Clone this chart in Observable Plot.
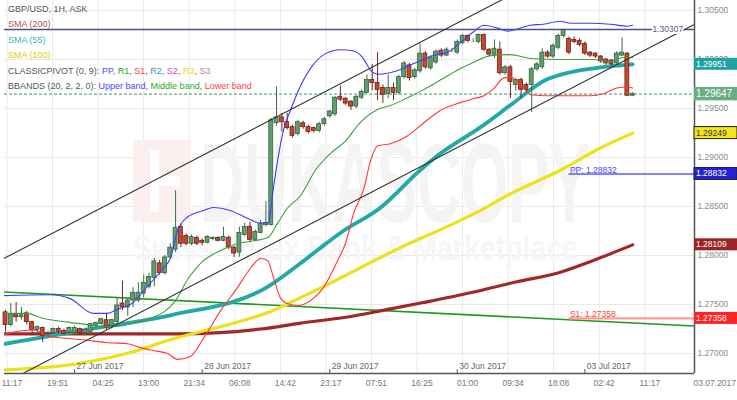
<!DOCTYPE html>
<html><head><meta charset="utf-8">
<script src="https://cdn.jsdelivr.net/npm/d3@7"></script>
<script src="https://cdn.jsdelivr.net/npm/@observablehq/plot@0.6"></script>
<style>
body{margin:0;background:#fff;}
#wrap{position:relative;width:737px;height:400px;font-family:"Liberation Sans",Arial,sans-serif;overflow:hidden;}
#legend{position:absolute;left:8px;top:2px;font-size:9px;line-height:15.4px;color:#555;white-space:nowrap;}
</style></head><body>
<div id="wrap">
<div id="chart"></div>
<div id="legend">
<div>GBP/USD, 1H, ASK</div>
<div style="color:#b9504c">SMA (200)</div>
<div style="color:#33b8b8">SMA (55)</div>
<div style="color:#ddd000">SMA (100)</div>
<div>CLASSICPIVOT (0, 9): <span style="color:#4848ff">PP</span>, <span style="color:#2fa52f">R1</span>, <span style="color:#ff4040">S1</span>, <span style="color:#3399cc">R2</span>, <span style="color:#dd44dd">S2</span>, <span style="color:#dede20">R3</span>, <span style="color:#c08888">S3</span></div>
<div>BBANDS (20, 2, 2, 0): <span style="color:#4848ff">Upper band</span>, <span style="color:#2fa52f">Middle band</span>, <span style="color:#ff4040">Lower band</span></div>
</div>
</div>
<script>
// ---- Candles (hourly bars, index 0 = 26 Jun 2017 11:00) ----
const open = [
1.2742,1.2729,1.2740,1.2737,1.2741,1.2732,1.2724,1.2726,1.2720,1.2721,
1.2725,1.2723,1.2721,1.2721,1.2725,1.2721,1.2722,1.2728,1.2730,1.2734,
1.2728,1.2732,1.2751,1.2747,1.2754,1.2754,1.2761,1.2768,1.2777,1.2792,
1.2782,1.2798,1.2806,1.2829,1.2820,1.2812,1.2818,1.2815,1.2813,1.2817,
1.2818,1.2815,1.2818,1.2808,1.2803,1.2821,1.2829,1.2816,1.2823,1.2831,
1.2831,1.2935,1.2941,1.2936,1.2931,1.2924,1.2935,1.2931,1.2930,1.2927,
1.2934,1.2942,1.2944,1.2962,1.2960,1.2957,1.2952,1.2961,1.2966,1.2979,
1.2976,1.2971,1.2965,1.2971,1.2966,1.2982,1.2994,1.2982,1.2988,1.3006,
1.2991,1.2997,1.3009,1.3004,1.3009,1.3007,1.3017,1.3024,1.3019,1.3018,
1.3025,1.3010,1.3005,1.3010,1.2986,1.2992,1.2974,1.2979,1.2974,1.2974,
1.2990,1.2992,1.3007,1.3003,1.3012,1.3024,1.3021,1.3020,1.3019,1.3016,
1.3007,1.3006,1.3003,1.3000,1.2999,1.2996,1.3004,1.3006,1.2963];
const high = [
1.2744,1.2751,1.2752,1.2747,1.2743,1.2733,1.2728,1.2727,1.2723,1.2726,
1.2727,1.2725,1.2727,1.2728,1.2726,1.2726,1.2731,1.2732,1.2736,1.2741,
1.2735,1.2757,1.2774,1.2756,1.2767,1.2772,1.2780,1.2782,1.2797,1.2795,
1.2800,1.2812,1.2866,1.2832,1.2822,1.2821,1.2820,1.2817,1.2820,1.2819,
1.2819,1.2829,1.2820,1.2809,1.2829,1.2833,1.2834,1.2826,1.2836,1.2855,
1.2940,1.2972,1.2945,1.2945,1.2933,1.2938,1.2937,1.2933,1.2931,1.2936,
1.2941,1.2948,1.2962,1.2973,1.2961,1.2958,1.2963,1.2969,1.2984,1.2995,
1.3007,1.2974,1.2984,1.2976,1.2984,1.2998,1.2996,1.2991,1.3016,1.3008,
1.3004,1.3010,1.3011,1.3012,1.3011,1.3020,1.3026,1.3025,1.3021,1.3026,
1.3026,1.3011,1.3020,1.3018,1.2994,1.2994,1.2981,1.2981,1.2976,1.2992,
1.2997,1.3011,1.3009,1.3016,1.3026,1.3031,1.3023,1.3023,1.3021,1.3018,
1.3008,1.3007,1.3004,1.3001,1.3000,1.3008,1.3022,1.3007,1.2966];
const low = [
1.2722,1.2727,1.2732,1.2734,1.2729,1.2719,1.2721,1.2711,1.2718,1.2720,
1.2720,1.2719,1.2720,1.2719,1.2719,1.2719,1.2720,1.2726,1.2729,1.2724,
1.2725,1.2730,1.2744,1.2738,1.2747,1.2752,1.2757,1.2766,1.2768,1.2780,
1.2780,1.2796,1.2803,1.2808,1.2810,1.2810,1.2810,1.2810,1.2812,1.2815,
1.2814,1.2814,1.2806,1.2798,1.2798,1.2819,1.2813,1.2814,1.2822,1.2829,
1.2830,1.2932,1.2926,1.2928,1.2920,1.2922,1.2929,1.2924,1.2925,1.2925,
1.2932,1.2940,1.2942,1.2957,1.2953,1.2948,1.2950,1.2959,1.2965,1.2968,
1.2958,1.2955,1.2960,1.2958,1.2964,1.2980,1.2978,1.2980,1.2986,1.2990,
1.2989,1.2995,1.3002,1.3003,1.3007,1.3005,1.3015,1.3017,1.3017,1.3016,
1.3008,1.3003,1.3001,1.2984,1.2984,1.2960,1.2968,1.2960,1.2967,1.2946,
1.2988,1.2990,1.3001,1.3001,1.3010,1.3022,1.3005,1.3016,1.3013,1.3004,
1.3002,1.3001,1.2996,1.2994,1.2993,1.2994,1.3003,1.2962,1.2962];
const close = [
1.2729,1.2740,1.2737,1.2739,1.2732,1.2724,1.2727,1.2718,1.2721,1.2725,
1.2722,1.2720,1.2726,1.2726,1.2721,1.2724,1.2730,1.2731,1.2735,1.2726,
1.2734,1.2749,1.2747,1.2754,1.2762,1.2762,1.2772,1.2778,1.2794,1.2782,
1.2798,1.2808,1.2828,1.2812,1.2812,1.2819,1.2812,1.2813,1.2819,1.2818,
1.2815,1.2819,1.2808,1.2802,1.2823,1.2829,1.2816,1.2824,1.2832,1.2833,
1.2938,1.2941,1.2936,1.2930,1.2922,1.2936,1.2931,1.2926,1.2927,1.2934,
1.2939,1.2947,1.2961,1.2959,1.2955,1.2952,1.2962,1.2967,1.2979,1.2976,
1.2969,1.2964,1.2971,1.2966,1.2982,1.2996,1.2981,1.2989,1.3006,1.2992,
1.3002,1.3008,1.3004,1.3010,1.3009,1.3018,1.3024,1.3019,1.3019,1.3025,
1.3010,1.3005,1.3011,1.2986,1.2992,1.2977,1.2979,1.2969,1.2969,1.2990,
1.2995,1.3007,1.3003,1.3014,1.3024,1.3030,1.3007,1.3018,1.3015,1.3006,
1.3004,1.3003,1.2998,1.2996,1.2995,1.3006,1.3007,1.2963,1.2965];

// ---- Indicators: [bar index, price] ----
const sma200 = [[-1,1.2720],[16,1.2720],[32,1.2720],[48,1.2725],[55.5,1.2731],[64,1.2737],[71,1.2744],[78.6,1.2752],[87.5,1.2762],[96,1.2773],[104.4,1.2783],[110.6,1.2795],[118,1.28109]];
const sma100 = [[-1,1.2683],[14,1.2690],[23.5,1.2701],[31,1.2714],[44.2,1.2733],[49,1.2741],[53.6,1.2752],[59.3,1.2767],[63,1.2777],[74.3,1.2808],[83.7,1.2831],[89.4,1.2846],[95,1.2863],[104.4,1.2887],[112,1.2910],[118,1.29249]];
const sma55 = [[-1,1.2709],[16,1.2725],[31,1.2739],[49,1.2767],[55.5,1.2792],[59.3,1.2808],[63,1.2823],[70.6,1.2849],[78,1.2887],[81.8,1.2904],[89.4,1.2931],[95.4,1.2955],[101.6,1.2979],[106.3,1.2987],[112,1.2992],[115.7,1.2994],[118,1.29951]];
const bbUpper = [[-1,1.2759],[8.5,1.2760],[12.2,1.2756],[16.5,1.2741],[19.2,1.2741],[21,1.2745],[24,1.2752],[26,1.2764],[27.8,1.2775],[29.7,1.2787],[31,1.2797],[32.4,1.2826],[34.2,1.2839],[37.3,1.2846],[39.1,1.2849],[42.3,1.2846],[45.5,1.2838],[48,1.2833],[49.5,1.2834],[50.2,1.2861],[51.2,1.2897],[52.3,1.2928],[53.6,1.2948],[55.5,1.2973],[57.8,1.2994],[60.2,1.3006],[63,1.3010],[65.3,1.3009],[67.2,1.3002],[68.7,1.2989],[70.2,1.2985],[73.4,1.2988],[76.8,1.2996],[80.5,1.3004],[83.7,1.3009],[86.2,1.3020],[88,1.3028],[90,1.3035],[92.6,1.3032],[94.5,1.3029],[98.8,1.3035],[101.2,1.3036],[104.4,1.3039],[106.3,1.3037],[110,1.3037],[113.8,1.3036],[117,1.3034],[118,1.3035]];
const bbMiddle = [[-1,1.2741],[4,1.2741],[7,1.2736],[11.7,1.2732],[16,1.2729],[19.2,1.2727],[21.6,1.2728],[24,1.2731],[27.3,1.2736],[29.7,1.2742],[32,1.2754],[34.2,1.2775],[37.3,1.2795],[40.5,1.2805],[43.6,1.2812],[46.7,1.2815],[49.3,1.2818],[51.2,1.2833],[53,1.2848],[55.5,1.2861],[58.3,1.2887],[61.1,1.2904],[64,1.2917],[66.8,1.2936],[70,1.2949],[72.4,1.2953],[75.6,1.2961],[78.6,1.2969],[81.8,1.2979],[85,1.2989],[88,1.2997],[91.3,1.3004],[95,1.3005],[98.8,1.3001],[104.4,1.3000],[110.6,1.3000],[113.8,1.2998],[116.2,1.3002],[118,1.3002]];
const bbLower = [[-1,1.2718],[1.5,1.2722],[5.3,1.2724],[7.9,1.2718],[10.3,1.2716],[14.7,1.2714],[19.2,1.2711],[23,1.2710],[25.4,1.2706],[27.8,1.2703],[30.5,1.2700],[32.4,1.2694],[34.8,1.2697],[37.3,1.2716],[40.5,1.2744],[43.6,1.2767],[46.1,1.2787],[48,1.2797],[49.3,1.2795],[50.4,1.2778],[51.7,1.2757],[53,1.2751],[55,1.2749],[57.4,1.2754],[59.8,1.2767],[62.5,1.2795],[64,1.2813],[65.5,1.2843],[67.4,1.2868],[68.7,1.2897],[70,1.2912],[72.4,1.2914],[75.6,1.2922],[78.6,1.2935],[81.8,1.2948],[85.6,1.2956],[88,1.2960],[90,1.2963],[91.8,1.2970],[93.7,1.2981],[95,1.2982],[96.3,1.2977],[97.5,1.2971],[98.8,1.2964],[102,1.2963],[110,1.2963],[112.5,1.2965],[115,1.2971],[117,1.2972],[118,1.2971]];
const channelUpper = [[-1,1.2795],[130,1.3164]];
const channelLower = [[-1,1.26676],[130,1.30370]];
const trendGreen = [[-1,1.2763],[130,1.2728]];

// ---- Levels ----
const resistanceLevel = 1.30307;
const currentPrice = 1.29647;
const pivotPP = 1.28832;
const pivotS1 = 1.27358;
const pivotStartIdx = 106;

// ---- Axis ticks ----
const yTicks = [1.270,1.275,1.280,1.285,1.290,1.295,1.300,1.305];
const timeIdx = [0.28,8.85,17.42,25.98,34.57,43.13,51.70,60.28,68.85,77.42,86.00,94.57,103.13,111.70,120.28];
const timeLabels = ["11:17","19:51","04:25","13:00","21:34","06:08","14:42","23:17","07:51","16:25","01:00","09:34","18:08","02:42","11:17"];
const dateIdx = [13,37,61,85,109];
const dateLabels = ["27 Jun 2017","28 Jun 2017","29 Jun 2017","30 Jun 2017","03 Jul 2017"];
const currentDate = "03.07.2017";

// right-axis value boxes
const boxValues = [1.29951,1.29647,1.29249,1.28832,1.28109,1.27358];
const boxFills  = ["#1fa2a2","#6aac84","#f2e51c","#2323d4","#9c2424","#ff2323"];
const boxInk    = ["#fff","#fff","#333","#fff","#fff","#fff"];

const X0=-0.19, X1=129.63, Y0=1.26796, Y1=1.30602;
const bars = open.map((o,i)=>({i,o,h:high[i],l:low[i],c:close[i],up:close[i]>=o}));
const P = a => a.map(([i,v])=>({i,v}));
const FS = 8.5;

const chart = Plot.plot({
  width:737, height:400,
  marginLeft:4, marginRight:43, marginTop:0, marginBottom:27,
  x:{type:"linear", domain:[X0,X1], axis:null},
  y:{type:"linear", domain:[Y0,Y1], axis:null},
  color:{type:"identity"},
  style:{fontFamily:"'Liberation Sans',Arial,sans-serif", fontSize:"9px", background:"#fff", overflow:"visible"},
  marks:[
    Plot.ruleY(yTicks,{stroke:"#e9e9e9"}),
    Plot.ruleX(timeIdx,{stroke:"#e9e9e9"}),
    Plot.line(P(trendGreen),{x:"i",y:"v",stroke:"#1f9a1f",strokeWidth:1.6,clip:true}),
    Plot.ruleY([{y:pivotS1,x1:pivotStartIdx,x2:X1}],{y:"y",x1:"x1",x2:"x2",stroke:"#ff9a9a",strokeWidth:2.2}),
    Plot.ruleY([{y:pivotPP,x1:pivotStartIdx,x2:X1}],{y:"y",x1:"x1",x2:"x2",stroke:"#5a5aff",strokeWidth:1.4}),
    Plot.ruleY([resistanceLevel],{stroke:"#4b508c",strokeWidth:1.5}),
    Plot.ruleY([currentPrice],{stroke:"#3c9a5c",strokeDasharray:"3,2"}),
    Plot.line(P(sma200),{x:"i",y:"v",stroke:"#a02828",strokeWidth:3.2,curve:"monotone-x",clip:true}),
    Plot.line(P(sma100),{x:"i",y:"v",stroke:"#ebe21c",strokeWidth:3.2,curve:"monotone-x",clip:true}),
    Plot.line(P(sma55),{x:"i",y:"v",stroke:"#22a8a8",strokeWidth:3.8,curve:"monotone-x",clip:true}),
    Plot.ruleX(bars,{x:"i",y1:"l",y2:"h",stroke:d=>d.up?"#3d6b48":"#6e2a20",strokeWidth:1}),
    Plot.rect(bars,{x1:d=>d.i-0.37,x2:d=>d.i+0.37,y1:"o",y2:"c",fill:d=>d.up?"#5e9e6f":"#c8452f",stroke:d=>d.up?"#35603f":"#6a2218",strokeWidth:0.8}),
    Plot.line(P(bbUpper),{x:"i",y:"v",stroke:"#3c3cff",strokeWidth:1.1,curve:"monotone-x",clip:true}),
    Plot.line(P(bbMiddle),{x:"i",y:"v",stroke:"#3aa23a",strokeWidth:1.1,curve:"monotone-x",clip:true}),
    Plot.line(P(bbLower),{x:"i",y:"v",stroke:"#ff3838",strokeWidth:1.1,curve:"monotone-x",clip:true}),
    Plot.line(P(channelUpper),{x:"i",y:"v",stroke:"#333",strokeWidth:1.1,clip:true}),
    Plot.line(P(channelLower),{x:"i",y:"v",stroke:"#333",strokeWidth:1.1,clip:true}),
    Plot.text([resistanceLevel],{x:X1,y:d=>d,dx:-42,textAnchor:"start",text:d=>d.toFixed(5),fill:"#555a8c",stroke:"#fff",strokeWidth:4,fontSize:FS}),
    Plot.text([pivotPP],{x:pivotStartIdx,y:d=>d,dx:1,dy:-4,textAnchor:"start",text:d=>"PP: "+d.toFixed(5),fill:"#4848ff",fontSize:FS}),
    Plot.text([pivotS1],{x:pivotStartIdx,y:d=>d,dx:1,dy:-4,textAnchor:"start",text:d=>"S1: "+d.toFixed(5),fill:"#ff4040",fontSize:FS}),
    Plot.ruleY([Y0],{stroke:"#555",strokeWidth:1.5}),
    Plot.ruleX([X1],{stroke:"#555",strokeWidth:1.5}),
    Plot.ruleX(dateIdx,{y1:Y0,y2:Y0+0.0004,stroke:"#555"}),
    Plot.text(yTicks,{x:X1,y:d=>d,dx:3,textAnchor:"start",text:d=>d.toFixed(5),fill:"#8a8a8a",fontSize:FS}),
    Plot.text(timeIdx,{x:d=>d,y:Y0,dx:5,dy:10,text:(d,k)=>timeLabels[k],fill:"#777",fontSize:FS}),
    Plot.text(dateIdx,{x:d=>d,y:Y0,dx:2,dy:-7,textAnchor:"start",text:(d,k)=>dateLabels[k],fill:"#666",fontSize:FS}),
    Plot.text([currentDate],{x:X1,y:Y0,dx:-1,dy:10,textAnchor:"start",text:d=>d,fill:"#777",fontSize:FS})
  ]
});
document.getElementById("chart").appendChild(chart);

// value boxes on the right axis, placed with the chart's own y scale
const ys = chart.scale("y");
const svg = d3.select(chart);
const boxes = svg.append("g").attr("text-anchor","start");
boxValues.forEach((v,k)=>{
  const y = ys.apply(v);
  const h = k===1 ? 13.5 : 12;
  boxes.append("rect").attr("x",694).attr("y",y-h/2).attr("width",43).attr("height",h)
    .attr("fill",boxFills[k]).attr("stroke", k===2||k===3 ? "#222" : "none").attr("stroke-width",1);
  boxes.append("text").attr("x",696).attr("y",y).attr("dy","0.35em").attr("text-anchor","start")
    .attr("font-size", k===1 ? 10 : FS).attr("fill",boxInk[k]).text(v.toFixed(5));
});

// faint watermark behind the data
const ns="http://www.w3.org/2000/svg";
const wm = document.createElementNS(ns,"g");
wm.setAttribute("text-anchor","start");
wm.innerHTML = '<rect x="133" y="140" width="58" height="82" fill="#fcefef"/>'+
 '<rect x="150" y="150" width="9" height="62" fill="#fff"/><rect x="150" y="176" width="30" height="10" fill="#fff"/>'+
 '<text transform="translate(200,222) scale(1,1.85)" text-anchor="start" font-size="61" font-weight="bold" fill="#f4f4f4">DUKASCOPY</text>'+
 '<text transform="translate(133,260) scale(1,1.2)" text-anchor="start" font-size="28.5" font-weight="bold" fill="#f6f6f6">Swiss Forex Bank &amp; Marketplace</text>';
chart.insertBefore(wm, chart.children[3]);
</script>
</body></html>
